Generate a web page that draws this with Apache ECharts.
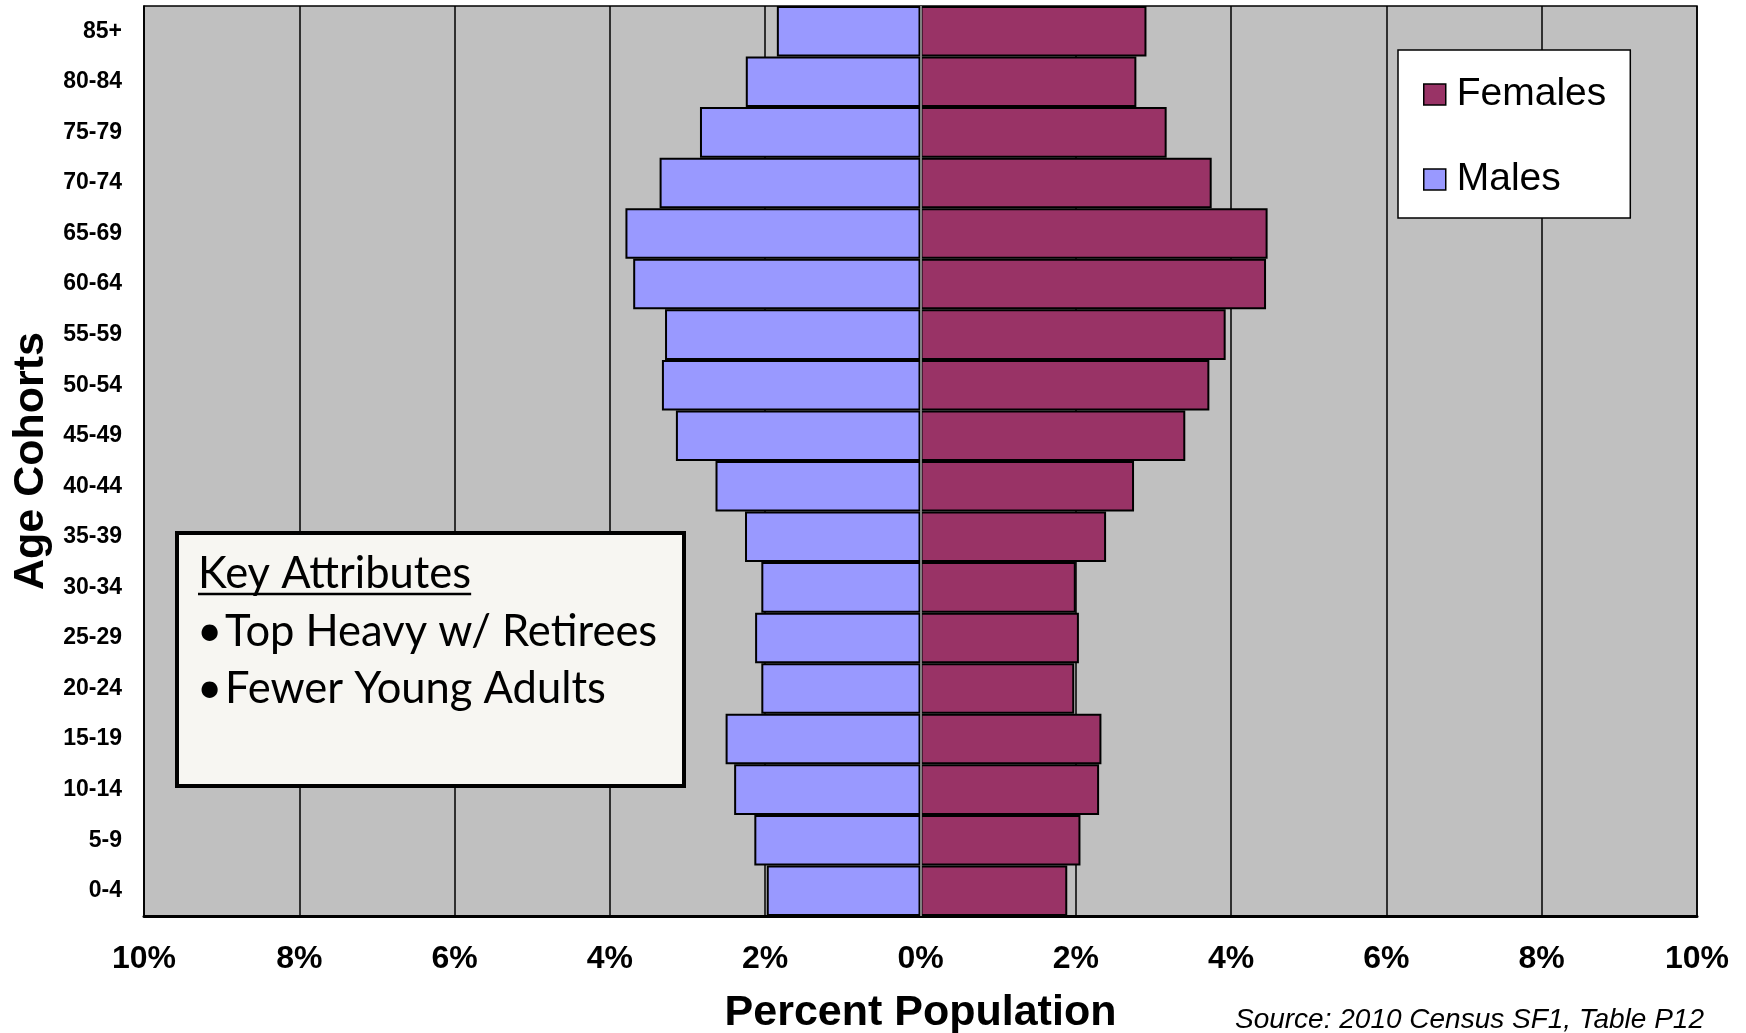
<!DOCTYPE html>
<html>
<head>
<meta charset="utf-8">
<script src="https://cdn.jsdelivr.net/npm/echarts@6/dist/echarts.min.js"></script>
<style>
html,body{margin:0;padding:0;background:#fff;}
#chart{width:1746px;height:1033px;}
</style>
</head>
<body>
<div id="chart"></div>
<script>
var ageCohorts = ['0-4','5-9','10-14','15-19','20-24','25-29','30-34','35-39','40-44','45-49','50-54','55-59','60-64','65-69','70-74','75-79','80-84','85+'];
var malesPct = [1.98, 2.14, 2.40, 2.51, 2.05, 2.13, 2.05, 2.26, 2.64, 3.15, 3.33, 3.29, 3.70, 3.80, 3.36, 2.84, 2.25, 1.85];
var femalesPct = [1.89, 2.06, 2.30, 2.33, 1.98, 2.04, 2.00, 2.39, 2.75, 3.41, 3.72, 3.93, 4.45, 4.47, 3.75, 3.17, 2.78, 2.91];
var xMin = -10, xMax = 10, xStep = 2;
var keyTitle = 'Key Attributes';
var keyLines = ['Top Heavy w/ Retirees', 'Fewer Young Adults'];
var sourceNote = 'Source: 2010 Census SF1, Table P12';

var FONT = '"Liberation Sans", Arial, sans-serif';

function measure(txt, font) {
  var c = document.createElement('canvas').getContext('2d');
  c.font = font;
  return c.measureText(txt).width;
}
var keyFont = '43.5px Lato';
var underlineW = measure(keyTitle, keyFont);

var chart = echarts.init(document.getElementById('chart'), null, {renderer: 'canvas'});
var option = {
  animation: false,
  backgroundColor: '#ffffff',
  grid: {
    left: 144, right: 49, top: 6, bottom: 117,
    outerBoundsMode: 'none',
    show: true, backgroundColor: '#C0C0C0', borderColor: '#000', borderWidth: 1.5
  },
  legend: {
    orient: 'vertical',
    left: 1398, top: 50,
    data: ['Females', 'Males'],
    selectedMode: false,
    backgroundColor: '#ffffff',
    borderColor: '#000', borderWidth: 1.5,
    padding: [25, 24, 19, 25],
    itemGap: 46,
    itemWidth: 22, itemHeight: 21,
    icon: 'rect',
    itemStyle: {borderColor: '#000', borderWidth: 1.5},
    textStyle: {fontFamily: FONT, fontSize: 39, color: '#000', padding: [0, 0, 0, 6]}
  },
  xAxis: {
    type: 'value', min: xMin, max: xMax, interval: xStep,
    axisLine: {show: true, onZero: false, lineStyle: {color: '#000', width: 3}},
    axisTick: {show: false},
    splitLine: {show: true, lineStyle: {color: '#000', width: 1.5}},
    axisLabel: {
      formatter: function (v) { return Math.abs(v) + '%'; },
      fontFamily: FONT, fontWeight: 'bold', fontSize: 32, color: '#000', margin: 27
    },
    name: 'Percent Population', nameLocation: 'middle', nameGap: 76,
    nameTextStyle: {fontFamily: FONT, fontWeight: 'bold', fontSize: 43, color: '#000'}
  },
  yAxis: {
    type: 'category', data: ageCohorts,
    axisLine: {show: true, onZero: false, lineStyle: {color: '#000', width: 1.5}},
    axisTick: {show: false},
    splitLine: {show: false},
    axisLabel: {fontFamily: FONT, fontWeight: 'bold', fontSize: 23, color: '#000', margin: 22},
    name: 'Age Cohorts', nameLocation: 'middle', nameGap: 89, nameRotate: 90,
    nameTextStyle: {fontFamily: FONT, fontWeight: 'bold', fontSize: 43, color: '#000'}
  },
  series: [
    {
      name: 'Males', type: 'bar', stack: 'pop', barCategoryGap: '0%',
      data: malesPct.map(function (v) { return -v; }),
      itemStyle: {color: '#9999FF', borderColor: '#000', borderWidth: 2},
      z: 3
    },
    {
      name: 'Females', type: 'bar', stack: 'pop', barCategoryGap: '0%',
      data: femalesPct,
      itemStyle: {color: '#993366', borderColor: '#000', borderWidth: 2},
      z: 3,
      markLine: {
        silent: true, symbol: 'none', label: {show: false},
        lineStyle: {color: '#808080', width: 2, type: 'solid'},
        data: [{xAxis: 0}]
      }
    }
  ],
  graphic: [
    {type: 'rect', z: 100, shape: {x: 177, y: 533, width: 507, height: 253},
     style: {fill: '#F7F6F2', stroke: '#000', lineWidth: 4}},
    {type: 'text', z: 101, style: {text: keyTitle, x: 198, y: 574, font: keyFont, fill: '#000', verticalAlign: 'middle'}},
    {type: 'line', z: 101, shape: {x1: 198, y1: 594, x2: 198 + underlineW, y2: 594}, style: {stroke: '#000', lineWidth: 2.5}},
    {type: 'text', z: 101, style: {text: '\u2022', x: 197, y: 632, font: keyFont, fill: '#000', verticalAlign: 'middle'}},
    {type: 'text', z: 101, style: {text: keyLines[0], x: 225, y: 632, font: keyFont, fill: '#000', verticalAlign: 'middle'}},
    {type: 'text', z: 101, style: {text: '\u2022', x: 197, y: 689, font: keyFont, fill: '#000', verticalAlign: 'middle'}},
    {type: 'text', z: 101, style: {text: keyLines[1], x: 225, y: 689, font: keyFont, fill: '#000', verticalAlign: 'middle'}},
    {type: 'text', z: 100,
     style: {text: sourceNote, x: 1704, y: 1020, font: 'italic 28px "Liberation Sans"', fill: '#000', align: 'right', verticalAlign: 'middle'}}
  ]
};
chart.setOption(option);
</script>
</body>
</html>
